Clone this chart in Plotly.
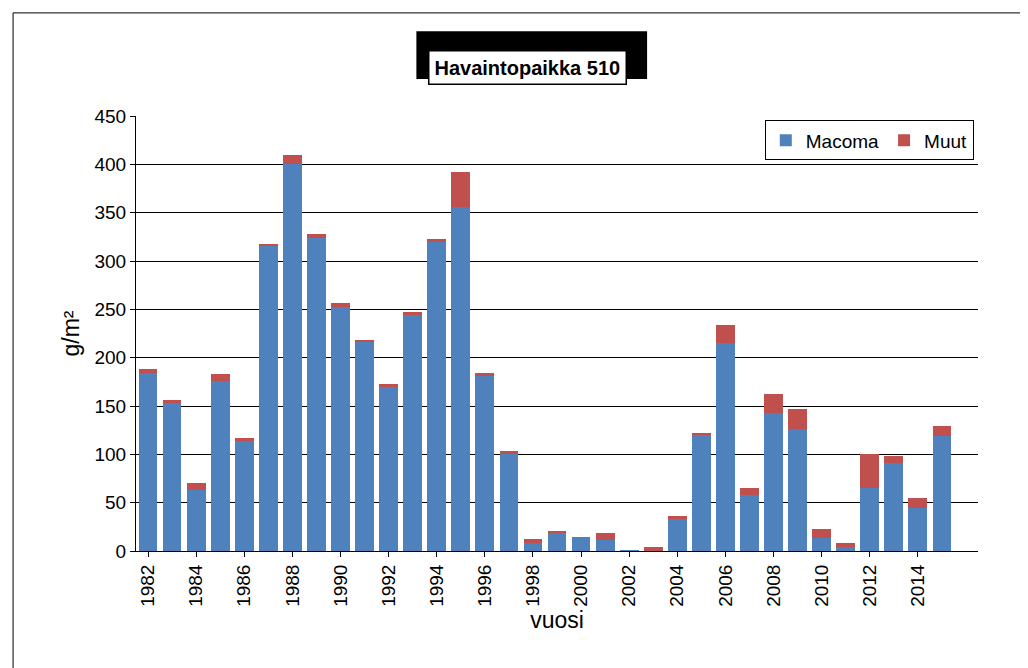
import plotly.graph_objects as go

years = [str(y) for y in range(1982, 2017)]
macoma = [184, 153, 63, 176, 114, 316, 400, 324, 252, 217, 170, 244, 320, 356, 182, 100, 8, 19, 15, 11,
          1, 0, 33, 120, 215, 58, 143, 126, 13, 4, 65, 91, 44, 119, None]
muut = [4, 3, 7, 7, 3, 2, 10, 4, 5, 1, 3, 3, 3, 36, 2, 3, 4, 2, 0, 8,
        0, 4, 3, 2, 19, 7, 19, 21, 10, 4, 35, 7, 11, 10, None]
tick_years = [str(y) for y in range(1982, 2016, 2)]

fig = go.Figure()
fig.add_trace(go.Bar(x=years, y=macoma, name="Macoma", marker=dict(color="#4F81BD", line_width=0)))
fig.add_trace(go.Bar(x=years, y=muut, name="Muut", marker=dict(color="#C0504D", line_width=0)))

fig.update_layout(
    barmode="stack", bargap=0.22, width=1028, height=668,
    paper_bgcolor="white", plot_bgcolor="white",
    font=dict(family="Liberation Sans, Arial", size=19, color="black"),
    margin=dict(l=128, r=58, t=108, b=125),
    legend=dict(orientation="h", traceorder="normal", x=0.995, y=0.99, xanchor="right", yanchor="top",
                bordercolor="black", borderwidth=1, font=dict(size=19)),
    shapes=[dict(type="rect", xref="paper", yref="paper", x0=-0.146, x1=1.062, y0=-0.274, y1=1.237,
                 line=dict(color="black", width=1)),
            dict(type="rect", xref="paper", yref="paper", x0=0.333, x1=0.607, y0=1.085, y1=1.195,
                 fillcolor="black", line_width=0, layer="below")],
    annotations=[dict(text="<b>Havaintopaikka 510</b>", xref="paper", yref="paper", x=0.465, y=1.152,
                      showarrow=False, font=dict(size=20), bordercolor="black", borderwidth=1.5,
                      borderpad=5, bgcolor="white")],
)
fig.update_xaxes(type="category", tickvals=tick_years, ticktext=tick_years, tickangle=-90,
                 title=dict(text="vuosi", standoff=5), showline=True, linecolor="black",
                 ticks="outside", tickcolor="black", range=[-0.5, 34.5])
fig.update_yaxes(range=[0, 450], dtick=50, showgrid=True, gridcolor="black", gridwidth=1,
                 title=dict(text="g/m²", standoff=8), showline=True, linecolor="black",
                 ticks="outside", tickcolor="black", zeroline=False)
fig.write_html("out.html")
